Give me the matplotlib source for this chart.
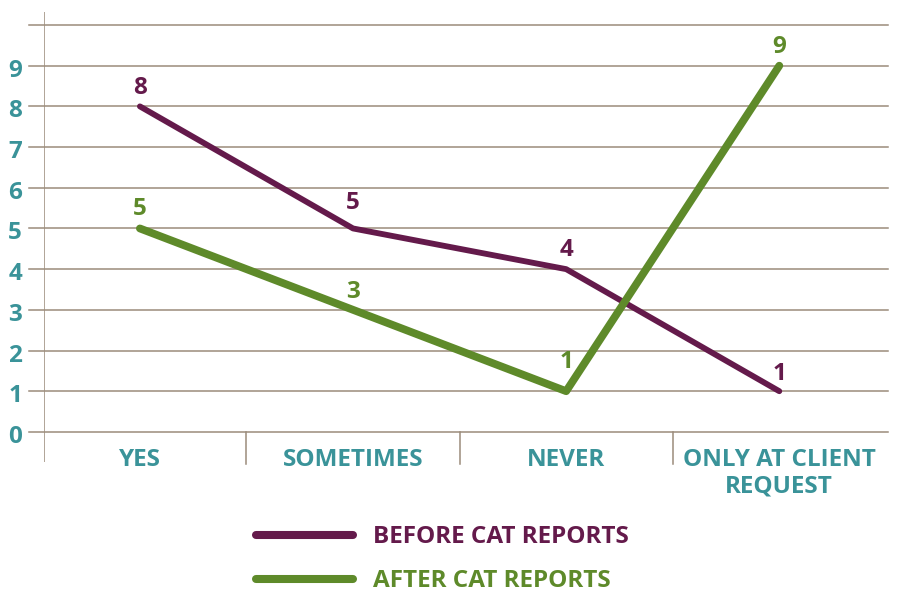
import matplotlib.pyplot as plt
from matplotlib.lines import Line2D

categories = ["YES", "SOMETIMES", "NEVER", "ONLY AT CLIENT\nREQUEST"]
before = [8, 5, 4, 1]
after = [5, 3, 1, 9]
series_names = ["BEFORE CAT REPORTS", "AFTER CAT REPORTS"]
y_ticks = list(range(0, 10))

# gap in pixels between each point and its value label
before_gap = [12, 19, 13, 11]
after_gap = [13, 12, 23, 13]

PURPLE = "#641a4b"
GREEN = "#5e8a2a"
TEAL = "#3a9399"
GRID = "#9b8b7b"

plt.rcParams['font.family'] = ['Open Sans', 'DejaVu Sans']
plt.rcParams['font.weight'] = 'bold'
FS = 17.5
PX = 40.67  # pixels per y unit

fig = plt.figure(figsize=(9.02, 5.91), dpi=100)
ax = fig.add_axes([44 / 902, 1 - 462 / 591, 844 / 902, 450 / 591])

x = list(range(len(categories)))
ax.set_xlim(-0.45, 3.51)
ax.set_ylim(-0.74, 10.32)

# horizontal grid lines, running a bit left of the axis like ticks
for v in range(0, 11):
    ax.plot([-0.52, 3.51], [v, v], color=GRID, lw=1.1, clip_on=False, zorder=1)
ax.axvline(-0.45, color=GRID, lw=1.1, zorder=1)
for s in [0.5, 1.5, 2.5]:
    ax.plot([s, s], [-0.78, 0], color=GRID, lw=1.1, clip_on=False, zorder=1)

ax.plot(x, before, color=PURPLE, lw=4.2, zorder=3, solid_capstyle='round',
        solid_joinstyle='round')
ax.plot(x, after, color=GREEN, lw=5.6, zorder=3, solid_capstyle='round',
        solid_joinstyle='round')

for xi, v, g in zip(x, before, before_gap):
    ax.text(xi, v + g / PX, str(v), color=PURPLE, fontsize=FS, fontweight='bold',
            ha='center', va='baseline')
for xi, v, g in zip(x, after, after_gap):
    ax.text(xi, v + g / PX, str(v), color=GREEN, fontsize=FS, fontweight='bold',
            ha='center', va='baseline')

for xi, c in zip(x, categories):
    for j, line in enumerate(c.split("\n")):
        ax.text(xi, -(34 + 27 * j) / PX, line, color=TEAL, fontsize=FS,
                fontweight='bold', ha='center', va='baseline', clip_on=False)

for v in y_ticks:
    ax.text(-0.585, v - 11 / PX, str(v), color=TEAL, fontsize=FS, fontweight='bold',
            ha='center', va='baseline')

for s in ax.spines.values():
    s.set_visible(False)
ax.set_xticks([])
ax.set_yticks([])

# legend
for i, (name, col) in enumerate(zip(series_names, [PURPLE, GREEN])):
    yy = 1 - (535 + 44 * i) / 591
    fig.add_artist(Line2D([256 / 902, 353 / 902], [yy, yy], color=col, lw=5.8,
                          solid_capstyle='round'))
    fig.text(373 / 902, 1 - (543 + 44 * i) / 591, name, color=col, fontsize=FS,
             fontweight='bold', ha='left', va='baseline')

fig.savefig("out.png", dpi=100)
